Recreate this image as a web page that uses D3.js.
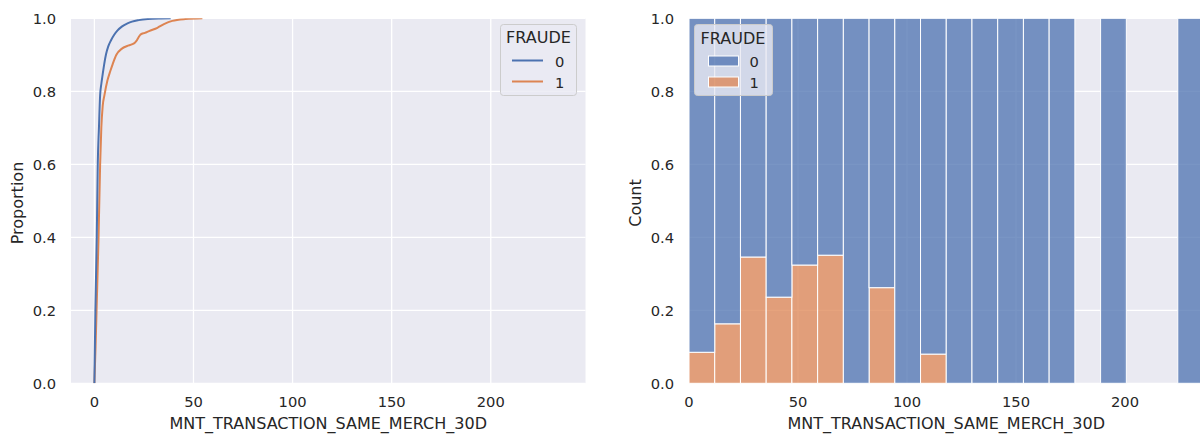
<!DOCTYPE html>
<html>
<head>
<meta charset="utf-8">
<script src="https://cdn.jsdelivr.net/npm/d3@7"></script>
<style>
  body { margin: 0; background: #fff; }
  text { font-family: "DejaVu Sans", sans-serif; fill: #262626; }
</style>
</head>
<body>
<svg id="chart" width="1200" height="436"></svg>
<script>
// ---- data ----
const groups = ["0", "1"];
const groupColors = ["#4c72b0", "#dd8452"];

// Empirical CDF of MNT_TRANSACTION_SAME_MERCH_30D per FRAUDE group
const ecdfX0 = [0, 0.25, 0.5, 1.2, 1.7, 2.3, 2.9, 3.5, 4.2, 5.0, 5.9, 7.0, 8.4, 10.0, 11.7, 14.0, 16.7, 19.0, 22.4, 27.0, 32.4, 38.5];
const ecdfP0 = [0, 0.1, 0.2, 0.4, 0.6, 0.7, 0.79, 0.82, 0.847, 0.876, 0.902, 0.923, 0.94, 0.955, 0.967, 0.978, 0.986, 0.991, 0.995, 0.998, 0.9995, 1.0];
const ecdfX1 = [0, 0.6, 1.1, 2.1, 2.9, 3.5, 4.2, 5.1, 6.6, 8.0, 9.2, 11.1, 13.9, 16.5, 19.2, 20.4, 21.2, 22.3, 23.4, 25.5, 27.6, 31.8, 35.1, 39.3, 46, 54.5];
const ecdfP1 = [0, 0.1, 0.2, 0.4, 0.6, 0.7, 0.76, 0.79, 0.83, 0.855, 0.874, 0.9, 0.917, 0.924, 0.929, 0.933, 0.938, 0.948, 0.956, 0.96, 0.965, 0.974, 0.984, 0.993, 0.998, 1.0];

// Histogram (normalised stack): share of FRAUDE=1 in each bin; null = empty bin
const xMax = 236;
const binCount = 20;
const fraudShare = [0.085, 0.163, 0.346, 0.236, 0.324, 0.351, 0, 0.262, 0, 0.08,
                    0, 0, 0, 0, 0, null, 0, null, null, 0];

const xTicks = [0, 50, 100, 150, 200];
const yTicks = [0, 0.2, 0.4, 0.6, 0.8, 1.0];
const xLabel = "MNT_TRANSACTION_SAME_MERCH_30D";
const legendTitle = "FRAUDE";

// ---- layout ----
const svg = d3.select("#chart");
const plotTop = 18.3, plotBottom = 383.3;
const panels = [
  { left: 71, right: 585.5, yLabel: "Proportion" },
  { left: 689, right: 1203.5, yLabel: "Count" }
];
const bg = "#eaeaf2";

const y = d3.scaleLinear().domain([0, 1]).range([plotBottom, plotTop]);

function drawFrame(p, x) {
  const g = svg.append("g");
  g.append("rect")
    .attr("x", p.left).attr("y", plotTop)
    .attr("width", p.right - p.left).attr("height", plotBottom - plotTop)
    .attr("fill", bg);
  // grid
  g.selectAll(null).data(xTicks).join("line")
    .attr("x1", d => x(d)).attr("x2", d => x(d))
    .attr("y1", plotTop).attr("y2", plotBottom)
    .attr("stroke", "#fff").attr("stroke-width", 1.3);
  g.selectAll(null).data(yTicks).join("line")
    .attr("x1", p.left).attr("x2", p.right)
    .attr("y1", d => y(d)).attr("y2", d => y(d))
    .attr("stroke", "#fff").attr("stroke-width", 1.3);
  // tick labels
  g.selectAll(null).data(xTicks).join("text")
    .attr("x", d => x(d)).attr("y", 406.5)
    .attr("text-anchor", "middle").attr("font-size", 14.7)
    .text(d => d);
  g.selectAll(null).data(yTicks).join("text")
    .attr("x", p.left - 15).attr("y", d => y(d) + 5.3)
    .attr("text-anchor", "end").attr("font-size", 14.7)
    .text(d => d.toFixed(1));
  // axis labels
  svg.append("text")
    .attr("x", (p.left + p.right) / 2).attr("y", 429)
    .attr("text-anchor", "middle").attr("font-size", 16)
    .text(xLabel);
  svg.append("text")
    .attr("transform", `translate(${p.left - 48.3},${203}) rotate(-90)`)
    .attr("text-anchor", "middle").attr("font-size", 16)
    .text(p.yLabel);
}

// ---- left panel: ECDF ----
const pL = panels[0];
const xL = d3.scaleLinear().domain([-xMax * 0.05, xMax * 1.05]).range([pL.left, pL.right]);
drawFrame(pL, xL);

svg.append("clipPath").attr("id", "clipL")
  .append("rect").attr("x", pL.left).attr("y", plotTop)
  .attr("width", pL.right - pL.left).attr("height", plotBottom - plotTop);

const ecdfSeries = [
  { xs: ecdfX0, ps: ecdfP0, color: groupColors[0] },
  { xs: ecdfX1, ps: ecdfP1, color: groupColors[1] }
];
const line = d3.line().curve(d3.curveMonotoneX).x(d => xL(d[0])).y(d => y(d[1]));
const gL = svg.append("g").attr("clip-path", "url(#clipL)");
// draw fraud group first so the non-fraud curve sits on top
[ecdfSeries[1], ecdfSeries[0]].forEach(s => {
  gL.append("path")
    .datum(d3.zip(s.xs, s.ps))
    .attr("d", line)
    .attr("fill", "none")
    .attr("stroke", s.color)
    .attr("stroke-width", 2)
    .attr("stroke-linejoin", "round");
});

// legend (lines)
const lgL = svg.append("g");
lgL.append("rect").attr("x", 500.5).attr("y", 24.5).attr("width", 76).attr("height", 71)
  .attr("rx", 3).attr("fill", bg).attr("fill-opacity", 0.8)
  .attr("stroke", "#cccccc").attr("stroke-width", 1);
lgL.append("text").attr("x", 538.5).attr("y", 43.3)
  .attr("text-anchor", "middle").attr("font-size", 16).text(legendTitle);
groups.forEach((gname, i) => {
  const cy = 60.5 + i * 21;
  lgL.append("line").attr("x1", 512).attr("x2", 543).attr("y1", cy).attr("y2", cy)
    .attr("stroke", groupColors[i]).attr("stroke-width", 2);
  lgL.append("text").attr("x", 555).attr("y", cy + 6.3)
    .attr("font-size", 14.7).text(gname);
});

// ---- right panel: normalised stacked histogram ----
const pR = panels[1];
const xR = d3.scaleLinear().domain([0, xMax]).range([pR.left, pR.right]);
drawFrame(pR, xR);

const edges = d3.range(binCount + 1).map(i => i * xMax / binCount);
const bins = fraudShare.map((s, i) => ({ x0: edges[i], x1: edges[i + 1], share: s }))
  .filter(b => b.share !== null);

const gR = svg.append("g");
// FRAUDE=1 at the bottom of each bin
gR.selectAll(null).data(bins.filter(b => b.share > 0)).join("rect")
  .attr("x", b => xR(b.x0)).attr("width", b => xR(b.x1) - xR(b.x0))
  .attr("y", b => y(b.share)).attr("height", b => y(0) - y(b.share))
  .attr("fill", groupColors[1]).attr("fill-opacity", 0.75)
  .attr("stroke", "#fff").attr("stroke-width", 1);
// FRAUDE=0 stacked above
gR.selectAll(null).data(bins).join("rect")
  .attr("x", b => xR(b.x0)).attr("width", b => xR(b.x1) - xR(b.x0))
  .attr("y", y(1)).attr("height", b => y(b.share) - y(1))
  .attr("fill", groupColors[0]).attr("fill-opacity", 0.75)
  .attr("stroke", "#fff").attr("stroke-width", 1);

// legend (patches)
const lgR = svg.append("g");
lgR.append("rect").attr("x", 694.5).attr("y", 24.5).attr("width", 78).attr("height", 71)
  .attr("rx", 3).attr("fill", bg).attr("fill-opacity", 0.8)
  .attr("stroke", "#cccccc").attr("stroke-width", 1);
lgR.append("text").attr("x", 733).attr("y", 44)
  .attr("text-anchor", "middle").attr("font-size", 16).text(legendTitle);
groups.forEach((gname, i) => {
  const py = 56 + i * 21;
  lgR.append("rect").attr("x", 708.5).attr("y", py).attr("width", 30).attr("height", 10)
    .attr("fill", groupColors[i]).attr("fill-opacity", 0.75)
    .attr("stroke", "#fff").attr("stroke-width", 1);
  lgR.append("text").attr("x", 749.5).attr("y", py + 10.8)
    .attr("font-size", 14.7).text(gname);
});
</script>
</body>
</html>
